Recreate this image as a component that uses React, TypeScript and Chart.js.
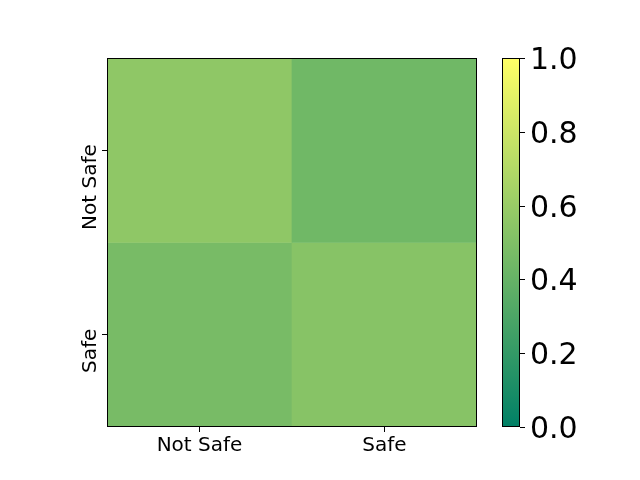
import React, { useEffect, useRef } from "react";
import { Chart, registerables } from "chart.js";

Chart.register(...registerables);

// ---- data ----
const columns = ["Not Safe", "Safe"];
const rows = ["Not Safe", "Safe"];
const rowNotSafe = [0.56, 0.44];
const rowSafe = [0.47, 0.53];
const colorbarTicks = [0, 0.2, 0.4, 0.6, 0.8, 1.0];
const colorbarMin = 0;
const colorbarMax = 1;

const matrix = [rowNotSafe, rowSafe];

function summer(v: number) {
  const t = (v - colorbarMin) / (colorbarMax - colorbarMin);
  const r = Math.round(t * 255);
  const g = Math.round((0.5 + t / 2) * 255);
  return `rgb(${r},${g},102)`;
}

const FONT = "'DejaVu Sans', sans-serif";

export default function App() {
  const ref = useRef<HTMLCanvasElement | null>(null);

  useEffect(() => {
    if (!ref.current) return;
    const n = rows.length;
    const datasets = matrix.map((vals, i) => ({
      label: rows[i],
      data: vals.map(() => [n - 1 - i, n - i] as [number, number]),
      backgroundColor: vals.map((v) => summer(v)),
      borderWidth: 0,
      barPercentage: 1,
      categoryPercentage: 1,
    }));

    const decor = {
      id: "decor",
      afterDraw(chart: any) {
        const ctx = chart.ctx;
        const a = chart.chartArea;
        const yScale = chart.scales.y;
        ctx.save();
        // spines
        ctx.strokeStyle = "#000";
        ctx.lineWidth = 1;
        ctx.strokeRect(Math.round(a.left) + 0.5, Math.round(a.top) + 0.5, Math.round(a.right - a.left) - 1, Math.round(a.bottom - a.top) - 1);

        // y tick labels (rotated)
        ctx.fillStyle = "#000";
        ctx.font = `20px ${FONT}`;
        ctx.textAlign = "right";
        ctx.textBaseline = "alphabetic";
        rows.forEach((label, i) => {
          const py = yScale.getPixelForValue(n - 1 - i + 0.5);
          ctx.save();
          ctx.translate(96, py - 6);
          ctx.rotate(-Math.PI / 2);
          ctx.fillText(label, 0, 0);
          ctx.restore();
        });

        // colorbar
        const cbL = 502, cbR = 520, cbT = a.top, cbB = a.bottom;
        const grad = ctx.createLinearGradient(0, cbB, 0, cbT);
        grad.addColorStop(0, summer(colorbarMin));
        grad.addColorStop(1, summer(colorbarMax));
        ctx.fillStyle = grad;
        ctx.fillRect(cbL, cbT, cbR - cbL, cbB - cbT);
        ctx.strokeStyle = "#000";
        ctx.strokeRect(cbL + 0.5, cbT + 0.5, cbR - cbL - 1, cbB - cbT - 1);
        ctx.font = `30px ${FONT}`;
        ctx.textAlign = "left";
        ctx.textBaseline = "alphabetic";
        ctx.fillStyle = "#000";
        colorbarTicks.forEach((t) => {
          const py = cbB - ((t - colorbarMin) / (colorbarMax - colorbarMin)) * (cbB - cbT);
          const yy = Math.round(py) + 0.5;
          ctx.beginPath();
          ctx.moveTo(cbR, yy);
          ctx.lineTo(cbR + 5, yy);
          ctx.stroke();
          ctx.fillText(t.toFixed(1), 530, py + 11);
        });
        ctx.restore();
      },
    };

    const chart = new Chart(ref.current, {
      type: "bar",
      data: { labels: columns, datasets: datasets as any },
      options: {
        animation: false,
        responsive: true,
        maintainAspectRatio: false,
        layout: { padding: { left: 0, top: 58, right: 163, bottom: 0 } },
        plugins: { legend: { display: false }, tooltip: { enabled: false } },
        scales: {
          x: {
            type: "category",
            stacked: true,
            offset: true,
            border: { display: false },
            grid: { offset: false, drawOnChartArea: false, drawTicks: true, tickLength: 5, color: "#000", lineWidth: 1 },
            ticks: { color: "#000", font: { family: FONT, size: 20 }, padding: 2, maxRotation: 0, minRotation: 0 },
            afterFit: (s: any) => { s.height = 53; },
          },
          y: {
            type: "linear",
            min: 0,
            max: rows.length,
            stacked: false,
            border: { display: false },
            grid: { drawOnChartArea: false, drawTicks: true, tickLength: 5, color: "#000", lineWidth: 1 },
            ticks: { display: false },
            afterBuildTicks: (s: any) => {
              s.ticks = rows.map((_, i) => ({ value: rows.length - 1 - i + 0.5 }));
            },
            afterFit: (s: any) => { s.width = 107; },
          },
        },
      },
      plugins: [decor],
    });
    return () => chart.destroy();
  }, []);

  return (
    <div style={{ position: "fixed", left: 0, top: 0, width: 640, height: 480, background: "#fff" }}>
      <canvas ref={ref} />
    </div>
  );
}
